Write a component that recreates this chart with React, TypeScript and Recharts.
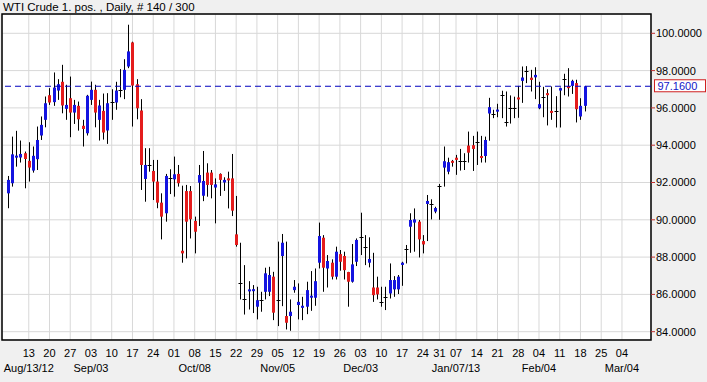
import React from "react";
import {
  Bar,
  CartesianGrid,
  ComposedChart,
  ReferenceArea,
  ReferenceLine,
  XAxis,
  YAxis,
} from "recharts";

// daily bars, index 0 = Aug 06 2012 (one slot per trading day)
const opens = [
  91.42, 91.96, 93.34, 93.34, 93.57, 93.16, 92.64, 93.25, 94.52, 95.36,
  96.68, 96.31, 96.93, 97.4, 95.95, 96.52, 95.75, 96.11, 95.04, 94.64,
  96.43, 96.97, 95.36, 95.84, 94.79, 96.32, 96.29, 96.97, 96.97, 98.22,
  99.51, 97.27, 95.86, 92.19, 92.94, 92.62, 92.05, 90.92, 90.35, 92.26,
  92.17, 92.46, 88.34, 91.54, 91.54, 89.94, 91.99, 91.29, 92.53, 92.53,
  91.73, 92.46, 92.0, 92.22, 92.22, 89.22, 86.62, 85.73, 86.2, 86.2,
  85.34, 85.69, 86.14, 86.14, 86.95, 85.69, 88.06, 84.84, 84.84, 86.23,
  85.43, 85.28, 85.34, 85.84, 85.82, 87.7, 89.04, 87.39, 87.7, 86.95,
  88.16, 88.06, 87.2, 86.68, 87.75, 89.09, 88.52, 87.7, 86.37, 86.37,
  85.6, 85.87, 86.05, 86.27, 86.27, 87.58, 88.41, 89.63, 89.85, 89.9,
  88.86, 90.85, 90.84, 90.44, 91.81, 92.8, 92.58, 93.16, 93.33, 93.16,
  93.16, 93.98, 94.0, 94.16, 93.42, 93.42, 95.7, 95.67, 95.8, 96.67,
  95.23, 95.97, 95.99, 96.56, 97.45, 98.0, 97.62, 97.64, 95.98, 96.61,
  96.79, 95.84, 95.84, 96.93, 97.56, 97.17, 97.18, 97.33, 95.54, 96.11,
];
const highs = [
  92.35, 94.46, 94.77, 94.25, 93.66, 94.16, 93.93, 95.0, 95.54, 96.61,
  97.06, 97.9, 97.54, 98.31, 97.24, 97.68, 96.43, 96.34, 95.36, 96.7,
  97.41, 97.24, 96.43, 96.77, 96.79, 97.0, 97.4, 98.08, 98.61, 100.46,
  99.55, 97.54, 96.47, 93.84, 93.84, 93.21, 93.21, 91.42, 92.46, 92.71,
  93.39, 92.94, 91.83, 91.87, 91.81, 90.17, 92.94, 93.69, 93.03, 92.67,
  92.22, 92.49, 92.28, 92.58, 93.53, 91.28, 88.77, 87.57, 86.71, 86.5,
  86.41, 86.14, 87.43, 87.48, 87.21, 88.83, 89.24, 88.83, 85.73, 86.77,
  86.59, 85.87, 86.68, 87.25, 87.39, 89.85, 89.18, 88.11, 87.88, 88.56,
  88.38, 88.29, 87.21, 88.7, 89.0, 90.38, 89.18, 89.06, 88.23, 86.95,
  86.41, 86.41, 87.66, 86.98, 87.04, 87.75, 88.65, 90.35, 90.61, 89.99,
  89.18, 91.33, 91.1, 90.7, 91.92, 93.93, 93.33, 93.21, 93.48, 93.8,
  93.57, 94.73, 94.5, 94.73, 94.5, 94.46, 96.54, 95.9, 96.22, 96.92,
  96.88, 96.67, 96.6, 97.18, 98.22, 98.24, 98.04, 98.18, 97.4, 97.13,
  97.0, 97.15, 96.63, 97.09, 97.83, 98.13, 97.51, 97.51, 96.52, 97.18,
];
const lows = [
  90.62, 91.78, 92.85, 93.07, 91.69, 92.05, 92.53, 92.67, 94.28, 94.96,
  96.16, 96.11, 96.43, 95.71, 95.36, 94.43, 95.14, 94.78, 93.93, 94.52,
  96.16, 94.96, 94.25, 94.3, 94.07, 95.36, 95.9, 96.57, 96.47, 98.13,
  95.0, 95.39, 91.6, 90.97, 92.58, 91.06, 90.62, 88.95, 89.9, 91.38,
  91.24, 91.78, 87.7, 87.93, 89.0, 88.2, 89.67, 91.0, 91.24, 91.15,
  89.81, 91.28, 91.55, 90.61, 90.2, 88.56, 85.73, 84.92, 85.19, 85.0,
  84.66, 85.07, 85.73, 85.91, 84.62, 84.3, 85.37, 84.12, 84.05, 86.09,
  84.66, 84.62, 84.94, 85.12, 85.39, 87.39, 86.14, 86.37, 86.8, 86.8,
  87.27, 86.8, 85.34, 86.63, 87.52, 88.11, 87.57, 87.45, 85.6, 85.73,
  85.34, 85.16, 85.78, 85.87, 86.02, 86.46, 87.66, 88.23, 88.29, 87.98,
  88.2, 88.86, 90.02, 90.35, 90.0, 91.78, 92.44, 92.85, 92.41, 92.64,
  92.67, 93.07, 92.62, 92.94, 93.07, 93.07, 94.24, 95.45, 95.5, 95.45,
  95.0, 95.16, 95.45, 95.47, 96.27, 97.33, 96.88, 96.47, 95.93, 95.5,
  95.06, 95.36, 94.95, 94.95, 96.68, 96.61, 96.75, 95.22, 95.36, 95.81,
];
const closes = [
  92.14, 93.51, 93.44, 93.53, 93.26, 92.8, 93.43, 94.28, 95.09, 96.25,
  96.29, 97.09, 97.27, 96.13, 96.16, 95.75, 96.16, 95.39, 94.87, 96.65,
  96.97, 95.75, 96.13, 94.68, 96.25, 96.32, 96.93, 96.97, 98.04, 99.03,
  97.2, 95.98, 92.94, 92.94, 92.94, 92.05, 90.92, 90.17, 92.35, 92.26,
  92.44, 91.96, 88.2, 89.9, 90.03, 89.36, 92.4, 92.08, 91.87, 91.87,
  91.9, 92.14, 92.14, 92.14, 90.49, 88.65, 86.62, 85.73, 86.27, 86.28,
  85.69, 85.69, 87.13, 87.04, 85.02, 85.69, 88.77, 84.48, 85.07, 86.41,
  85.6, 85.39, 86.23, 85.93, 86.71, 89.13, 87.43, 87.79, 86.95, 88.29,
  87.75, 87.3, 86.68, 87.61, 88.92, 89.09, 88.52, 87.9, 85.96, 86.0,
  85.6, 85.87, 86.77, 86.77, 86.95, 87.7, 88.41, 89.99, 90.02, 88.95,
  88.68, 91.01, 90.84, 90.63, 91.81, 93.14, 93.09, 93.07, 93.21, 93.16,
  93.16, 93.6, 93.8, 94.16, 93.33, 94.28, 96.04, 95.67, 95.91, 96.67,
  95.23, 95.97, 95.99, 96.47, 97.63, 98.0, 97.5, 97.77, 96.2, 96.61,
  96.69, 95.78, 95.84, 97.06, 97.56, 97.06, 97.45, 95.93, 96.11, 97.16,
];

// weekly ticks (Mondays), as bar slots
const tickIndex = [
  5, 10, 15, 20, 25, 30, 35, 40, 45, 50, 55, 60, 65, 70, 75, 80, 85, 90, 95,
  100, 104, 108, 113, 118, 123, 128, 133, 138, 143, 148,
];
const tickDays = [
  "13", "20", "27", "03", "10", "17", "24", "01", "08", "15", "22", "29",
  "05", "12", "19", "26", "03", "10", "17", "24", "31", "07", "14", "21",
  "28", "04", "11", "18", "25", "04",
];
const monthTickIndex = [5, 20, 45, 65, 85, 108, 128, 148];
const monthLabels = [
  "Aug/13/12", "Sep/03", "Oct/08", "Nov/05", "Dec/03", "Jan/07/13",
  "Feb/04", "Mar/04",
];
const priceTicks = [84, 86, 88, 90, 92, 94, 96, 98, 100];

const X_DOMAIN: [number, number] = [-1.45, 155];
const Y_DOMAIN: [number, number] = [83.555, 101.035];
const FONT = "'Liberation Sans', Arial, sans-serif";
const UP = "#1414e0";
const DOWN = "#e41c1c";

const lastPrice = closes[closes.length - 1];

const data = opens.map((open, i) => ({
  i,
  open,
  high: highs[i],
  low: lows[i],
  close: closes[i],
  range: [lows[i], highs[i]],
}));

const Candle = (props: any) => {
  const { x, y, width, height, payload } = props;
  if (!payload || height == null) return null;
  const { open, close, high, low } = payload;
  const top = Math.min(y, y + height);
  const k = Math.abs(height) / (high - low);
  const cx = Math.floor(x + width / 2) + 0.5;
  const yo = top + (high - open) * k;
  const yc = top + (high - close) * k;
  const doji = Math.abs(close - open) < 0.03;
  return (
    <g>
      <line x1={cx} x2={cx} y1={top} y2={top + Math.abs(height)} stroke="#000" strokeWidth={1} />
      {doji ? (
        <line
          x1={cx - 2}
          x2={cx + 2}
          y1={Math.round(yo) + 0.5}
          y2={Math.round(yo) + 0.5}
          stroke="#000"
          strokeWidth={1}
        />
      ) : (
        <rect
          x={cx - 1.5}
          y={Math.min(yo, yc)}
          width={3}
          height={Math.max(2, Math.abs(yo - yc))}
          fill={close > open ? UP : DOWN}
        />
      )}
    </g>
  );
};

const DateTick = (props: any) => {
  const { x, y, payload } = props;
  const k = tickIndex.indexOf(payload.value);
  const m = monthTickIndex.indexOf(payload.value);
  return (
    <g fontFamily={FONT} fontSize={11} fill="#000">
      <text x={x} y={y + 15} textAnchor="middle">
        {k >= 0 ? tickDays[k] : ""}
      </text>
      {m >= 0 && (
        <text x={x} y={y + 30} textAnchor="middle">
          {monthLabels[m]}
        </text>
      )}
    </g>
  );
};

const PriceLabel = (props: any) => {
  const { viewBox } = props;
  if (!viewBox) return null;
  const left = viewBox.x + viewBox.width + 3.5;
  const mid = viewBox.y;
  return (
    <g>
      <rect x={left} y={mid - 6.5} width={51} height={12} fill="#fff" stroke="#d02020" strokeWidth={1} />
      <text x={left + 3} y={mid + 4} fontFamily={FONT} fontSize={11} fill="#1414c8">
        {lastPrice.toFixed(4)}
      </text>
    </g>
  );
};

export default function App() {
  return (
    <div
      style={{
        position: "fixed",
        left: 0,
        top: 0,
        width: 707,
        height: 382,
        background: "#f0f0f0",
      }}
    >
      <div
        style={{
          position: "absolute",
          left: 3,
          top: 1,
          fontFamily: FONT,
          fontSize: 11.5,
          lineHeight: "13px",
          color: "#000",
          whiteSpace: "nowrap",
        }}
      >
        WTI Crude 1. pos. , Daily, # 140 / 300
      </div>
      <ComposedChart
        width={707}
        height={382}
        data={data}
        margin={{ top: 14, right: 0, bottom: 0, left: 2 }}
      >
        <CartesianGrid stroke="#d8d8d8" fill="#fff" />
        <XAxis
          dataKey="i"
          type="number"
          domain={X_DOMAIN}
          ticks={tickIndex}
          interval={0}
          allowDataOverflow
          height={42}
          axisLine={false}
          tickLine={false}
          tickSize={0}
          tick={<DateTick />}
        />
        <YAxis
          orientation="right"
          type="number"
          domain={Y_DOMAIN}
          ticks={priceTicks}
          interval={0}
          allowDataOverflow
          width={56}
          axisLine={false}
          tickSize={4}
          tickMargin={1}
          tickLine={{ stroke: "#c03030" }}
          tick={{ fill: "#000", fontSize: 11, fontFamily: FONT }}
          tickFormatter={(v: number) => v.toFixed(4)}
        />
        <ReferenceLine
          y={lastPrice}
          stroke="#0000c0"
          strokeWidth={1.2}
          strokeDasharray="6 4"
          label={<PriceLabel />}
        />
        <Bar dataKey="range" barSize={3} shape={<Candle />} isAnimationActive={false} />
        <ReferenceArea
          x1={X_DOMAIN[0]}
          x2={X_DOMAIN[1]}
          y1={Y_DOMAIN[0]}
          y2={Y_DOMAIN[1]}
          fill="none"
          stroke="#000"
          strokeWidth={1.5}
          ifOverflow="visible"
        />
      </ComposedChart>
    </div>
  );
}
